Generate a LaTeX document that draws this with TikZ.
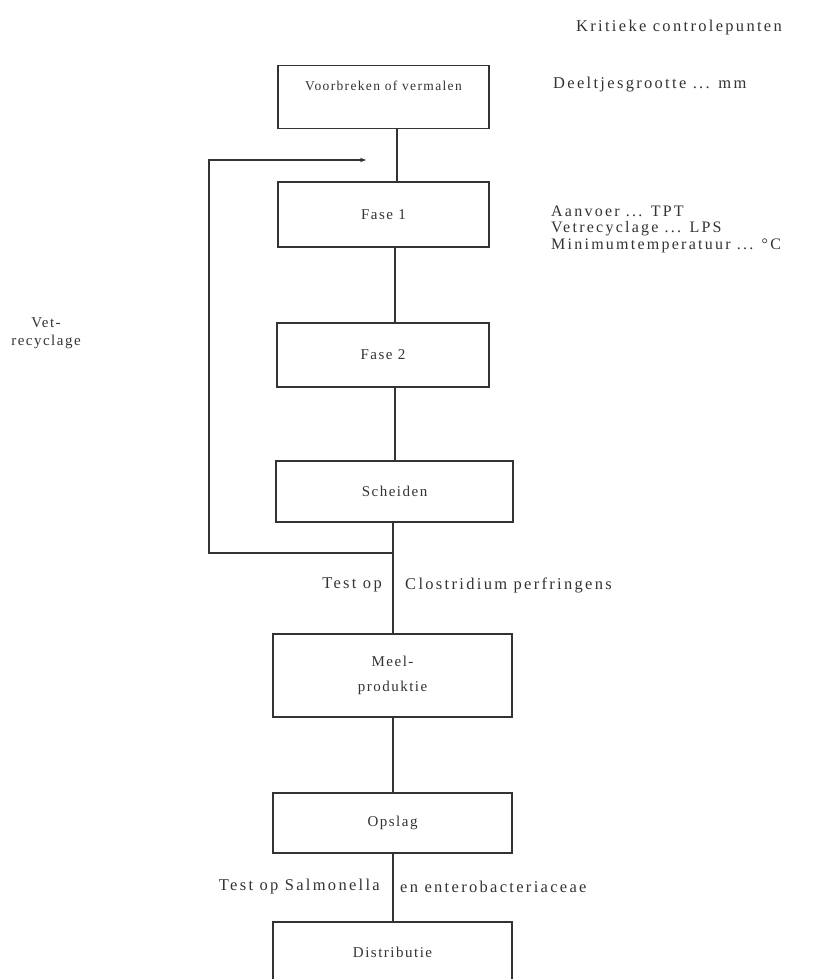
\documentclass[tikz,border=0pt]{standalone}
\usepackage{fontspec}
\setmainfont{Liberation Serif}
\newfontfamily\lblfont[LetterSpace=14]{Liberation Serif}
\newfontfamily\boxfont[LetterSpace=10]{Liberation Serif}
\usetikzlibrary{arrows.meta}
\definecolor{ink}{gray}{0.2}
\begin{document}
\begin{tikzpicture}[x=1pt,y=-1pt,
  box/.style={draw=ink, line width=1.2pt, rectangle, inner sep=0pt,
    font=\boxfont\fontsize{15}{16}\selectfont, text=ink},
  lbl/.style={font=\lblfont\fontsize{16.5}{16.5}\selectfont, text=ink, inner sep=0pt},
  conn/.style={draw=ink, line width=1.2pt}]
\useasboundingbox (0,0) rectangle (834,979);

% text labels
\node[lbl] (kop) at (679,28) {Kritieke controlepunten};
\node[lbl, anchor=west] (d1) at (553,85) {Deeltjesgrootte ... mm};
\node[lbl, anchor=west, align=left, font=\lblfont\fontsize{16}{16.5}\selectfont] (c1) at (551,229) {Aanvoer ... TPT\\Vetrecyclage ... LPS\\Minimumtemperatuur ... °C};
\node[lbl, font=\boxfont\fontsize{15}{16}\selectfont, align=center] (vet) at (46,333) {Vet-\\[2pt]recyclage};
\node[lbl, anchor=east] (t1) at (382,585) {Test op};
\node[lbl, anchor=west] (t2) at (405,585) {Clostridium perfringens};
\node[lbl, anchor=east] (t3) at (380,887) {Test op Salmonella};
\node[lbl, anchor=west] (t4) at (400,887) {en enterobacteriaceae};

% boxes
\node[box, minimum width=211pt, minimum height=63pt, text height=10pt, text depth=22pt,
  font=\boxfont\fontsize{13.5}{15}\selectfont] (b1) at (383.5,97) {Voorbreken of vermalen};
\node[box, minimum width=211pt, minimum height=65pt] (f1) at (383.5,214.5) {Fase 1};
\node[box, minimum width=212pt, minimum height=64pt] (f2) at (383,355) {Fase 2};
\node[box, minimum width=237pt, minimum height=61pt] (sch) at (394.5,491.5) {Scheiden};
\node[box, minimum width=239pt, minimum height=83pt, align=center] (meel) at (392.5,675.5) {Meel-\\[9pt]produktie};
\node[box, minimum width=239pt, minimum height=60pt] (ops) at (392.5,823) {Opslag};
\node[box, minimum width=239pt, minimum height=60pt] (dis) at (392.5,952) {Distributie};

% connectors
\coordinate (xa) at (397,0);
\coordinate (xb) at (395,0);
\coordinate (xc) at (393,0);
\draw[conn] (b1.south -| xa) -- (f1.north -| xa);
\draw[conn] (f1.south -| xb) -- (f2.north -| xb);
\draw[conn] (f2.south -| xb) -- (sch.north -| xb);
\draw[conn] (sch.south -| xc) -- (meel.north -| xc);
\draw[conn] (meel.south -| xc) -- (ops.north -| xc);
\draw[conn] (ops.south -| xc) -- (dis.north -| xc);

% fat recycling loop
\coordinate (lp0) at (393,553);
\coordinate (lp1) at (209,553);
\coordinate (lp2) at (209,160);
\coordinate (lp3) at (366,160);
\draw[conn, -{Stealth[length=6pt,width=4.5pt]}] (lp0) -- (lp1) -- (lp2) -- (lp3);
\end{tikzpicture}
\end{document}
